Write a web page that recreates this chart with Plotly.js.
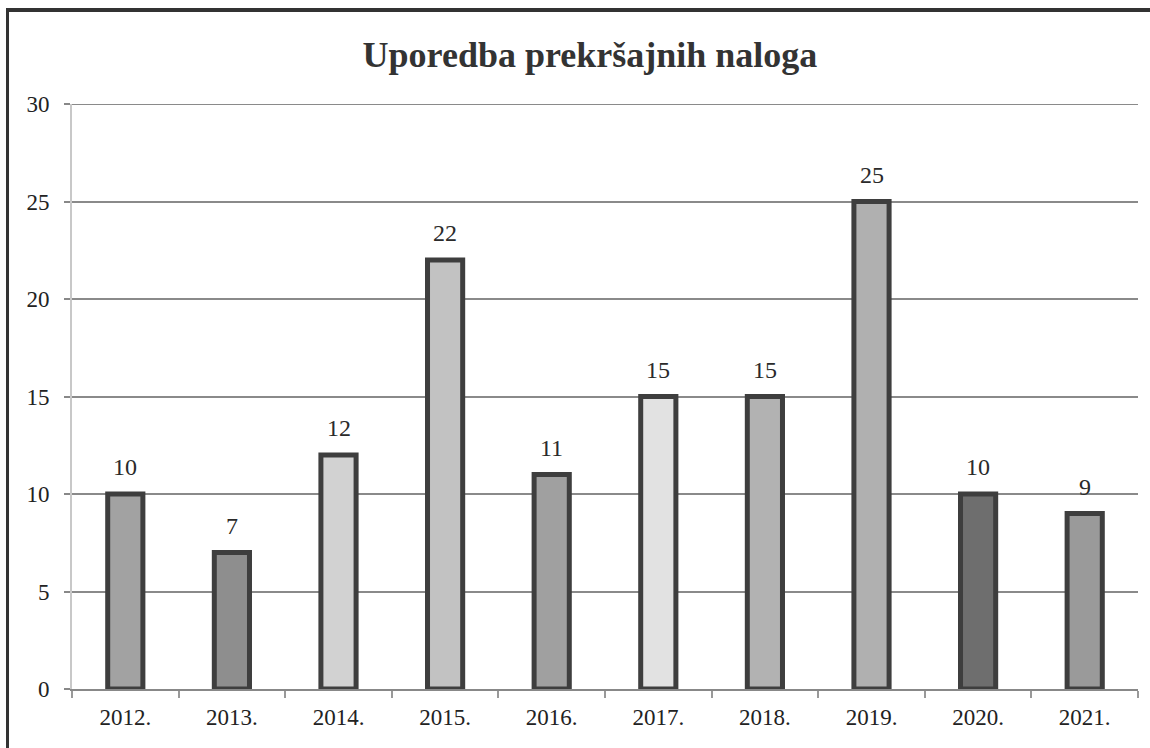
<!DOCTYPE html>
<html>
<head>
<meta charset="utf-8">
<script src="https://cdn.plot.ly/plotly-3.0.1.min.js"></script>
<style>
  html, body { margin: 0; padding: 0; background: #fff; }
  #wrap { position: relative; width: 1150px; height: 748px; }
  #chart { width: 1150px; height: 748px; }
  #frame { position: absolute; left: 6px; top: 8px; width: 1144px; height: 740px;
           border-left: 3px solid #333; border-top: 4px solid #333; pointer-events: none; }
</style>
</head>
<body>
<div id="wrap">
  <div id="chart"></div>
  <div id="frame"></div>
</div>
<script>
const categories = ["2012.", "2013.", "2014.", "2015.", "2016.", "2017.", "2018.", "2019.", "2020.", "2021."];
const values = [10, 7, 12, 22, 11, 15, 15, 25, 10, 9];
const barColors = ["#a2a2a2", "#8e8e8e", "#d2d2d2", "#c2c2c2", "#a0a0a0", "#e2e2e2", "#b2b2b2", "#b0b0b0", "#6e6e6e", "#9a9a9a"];
const yTicks = [0, 5, 10, 15, 20, 25, 30];

const serif = "Liberation Serif, Times New Roman, serif";

const trace = {
  type: "bar",
  x: categories,
  y: values,
  width: 0.33,
  marker: { color: barColors, line: { color: "#3e3e3e", width: 5 } },
  hoverinfo: "x+y"
};

const annotations = categories.map((c, i) => ({
  x: i, y: values[i], xref: "x", yref: "y",
  text: String(values[i]),
  showarrow: false, yanchor: "bottom", yshift: 12,
  font: { family: serif, size: 24, color: "#2a2a2a" }
}));

const layout = {
  width: 1150,
  height: 748,
  margin: { l: 72, r: 12, t: 104, b: 59 },
  paper_bgcolor: "#fff",
  plot_bgcolor: "#fff",
  showlegend: false,
  annotations: annotations,
  shapes: [{
    type: "line", xref: "paper", yref: "y", x0: 0, x1: 1, y0: yTicks[yTicks.length - 1], y1: yTicks[yTicks.length - 1],
    line: { color: "#8a8a8a", width: 2 }, layer: "below"
  }],
  title: {
    text: "<b>Uporedba prekršajnih naloga</b>",
    font: { family: serif, size: 36, color: "#333" },
    x: 0.513, xanchor: "center", y: 0.927, yanchor: "middle"
  },
  xaxis: {
    type: "category",
    categoryorder: "array",
    categoryarray: categories,
    showline: true, linecolor: "#888", linewidth: 2,
    ticks: "outside", tickson: "boundaries", ticklen: 7, tickcolor: "#999", tickwidth: 2,
    tickangle: 0,
    ticklabelstandoff: 6,
    tickfont: { family: serif, size: 23, color: "#222" },
    showgrid: false
  },
  yaxis: {
    range: [0, 30],
    tickvals: yTicks,
    ticktext: yTicks.map(String),
    ticks: "outside", ticklen: 6, tickcolor: "#888", tickwidth: 2,
    ticklabelstandoff: 10,
    showline: true, linecolor: "#c8c8c8", linewidth: 2,
    showgrid: true, gridcolor: "#8a8a8a", gridwidth: 2,
    zeroline: false,
    tickfont: { family: serif, size: 23, color: "#222" }
  },
  bargap: 0.67
};

Plotly.newPlot("chart", [trace], layout, { staticPlot: true });
</script>
</body>
</html>
